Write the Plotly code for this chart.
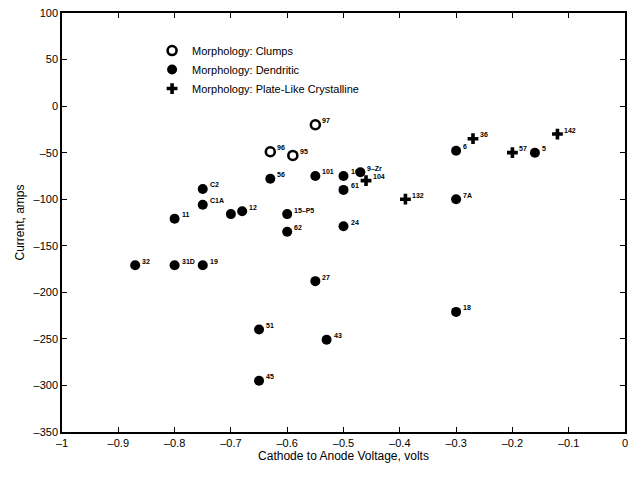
import plotly.graph_objects as go

# Morphology: Clumps (open circles)
clumps_x = [-0.55, -0.63, -0.59]
clumps_y = [-20, -49, -53]
clumps_lbl = ["97", "96", "95"]

# Morphology: Dendritic (filled circles)
dend_x = [-0.63, -0.55, -0.50, -0.47, -0.50, -0.30, -0.16, -0.30,
          -0.75, -0.75, -0.80, -0.70, -0.68, -0.60, -0.60, -0.50,
          -0.87, -0.80, -0.75, -0.55, -0.30, -0.65, -0.53, -0.65]
dend_y = [-78, -75, -75, -71, -90, -48, -50, -100,
          -89, -106, -121, -116, -113, -116, -135, -129,
          -171, -171, -171, -188, -221, -240, -251, -295]
dend_lbl = ["56", "101", "16", "9\u2013Zr", "61", "6", "5", "7A",
            "C2", "C1A", "11", "10", "12", "15\u2013P5", "62", "24",
            "32", "31D", "19", "27", "18", "51", "43", "45"]

# Morphology: Plate-Like Crystalline (plus)
plate_x = [-0.46, -0.39, -0.27, -0.20, -0.12]
plate_y = [-80, -100, -35, -50, -30]
plate_lbl = ["104", "132", "36", "57", "142"]

x_ticks = [-1, -0.9, -0.8, -0.7, -0.6, -0.5, -0.4, -0.3, -0.2, -0.1, 0]
x_ticktext = ["\u20131", "\u20130.9", "\u20130.8", "\u20130.7", "\u20130.6", "\u20130.5",
              "\u20130.4", "\u20130.3", "\u20130.2", "\u20130.1", "0"]
y_ticks = [100, 50, 0, -50, -100, -150, -200, -250, -300, -350]
y_ticktext = ["100", "50", "0", "\u201350", "\u2013100", "\u2013150", "\u2013200",
              "\u2013250", "\u2013300", "\u2013350"]

FONT = "Liberation Sans, Arial, sans-serif"

fig = go.Figure()
fig.add_trace(go.Scatter(
    x=clumps_x, y=clumps_y, mode="markers",
    name="Morphology: Clumps",
    marker=dict(symbol="circle-open", size=9, color="black", line=dict(width=2.6, color="black")),
))
fig.add_trace(go.Scatter(
    x=dend_x, y=dend_y, mode="markers",
    name="Morphology: Dendritic",
    marker=dict(symbol="circle", size=10, color="black"),
))
fig.add_trace(go.Scatter(
    x=plate_x, y=plate_y, mode="markers",
    name="Morphology: Plate-Like Crystalline",
    marker=dict(symbol="cross", size=9, color="black", line=dict(width=0)),
))

# point labels (superscript-like, to the upper right of each marker)
annotations = []
for xs, ys, ls in [(clumps_x, clumps_y, clumps_lbl), (dend_x, dend_y, dend_lbl),
                   (plate_x, plate_y, plate_lbl)]:
    for xv, yv, lv in zip(xs, ys, ls):
        annotations.append(dict(
            x=xv, y=yv, xref="x", yref="y", text="<b>" + lv + "</b>",
            showarrow=False, xanchor="left", yanchor="middle",
            xshift=5, yshift=4,
            font=dict(family=FONT, size=7, color="black"),
        ))

axis_common = dict(
    showgrid=False, zeroline=False, showline=True, linecolor="black", linewidth=1.5,
    mirror="ticks", ticks="inside", ticklen=5, tickcolor="black", tickwidth=1.2,
    tickfont=dict(family=FONT, size=11, color="black"),
)

fig.update_layout(
    width=629, height=490,
    margin=dict(l=62, r=2, t=13, b=58),
    paper_bgcolor="white", plot_bgcolor="white",
    font=dict(family=FONT, color="black"),
    showlegend=True,
    annotations=annotations,
    legend=dict(x=0.16, y=0.945, xanchor="left", yanchor="top",
                bgcolor="rgba(0,0,0,0)", borderwidth=0,
                font=dict(family=FONT, size=11, color="black"),
                itemwidth=30, tracegroupgap=0),
    xaxis=dict(range=[-1, 0], tickvals=x_ticks, ticktext=x_ticktext,
               title=dict(text="Cathode to Anode Voltage, volts", font=dict(size=12), standoff=4),
               **axis_common),
    yaxis=dict(range=[-350, 100], tickvals=y_ticks, ticktext=y_ticktext,
               title=dict(text="Current, amps", font=dict(size=12), standoff=6),
               **axis_common),
)

fig.write_html("out.html")
